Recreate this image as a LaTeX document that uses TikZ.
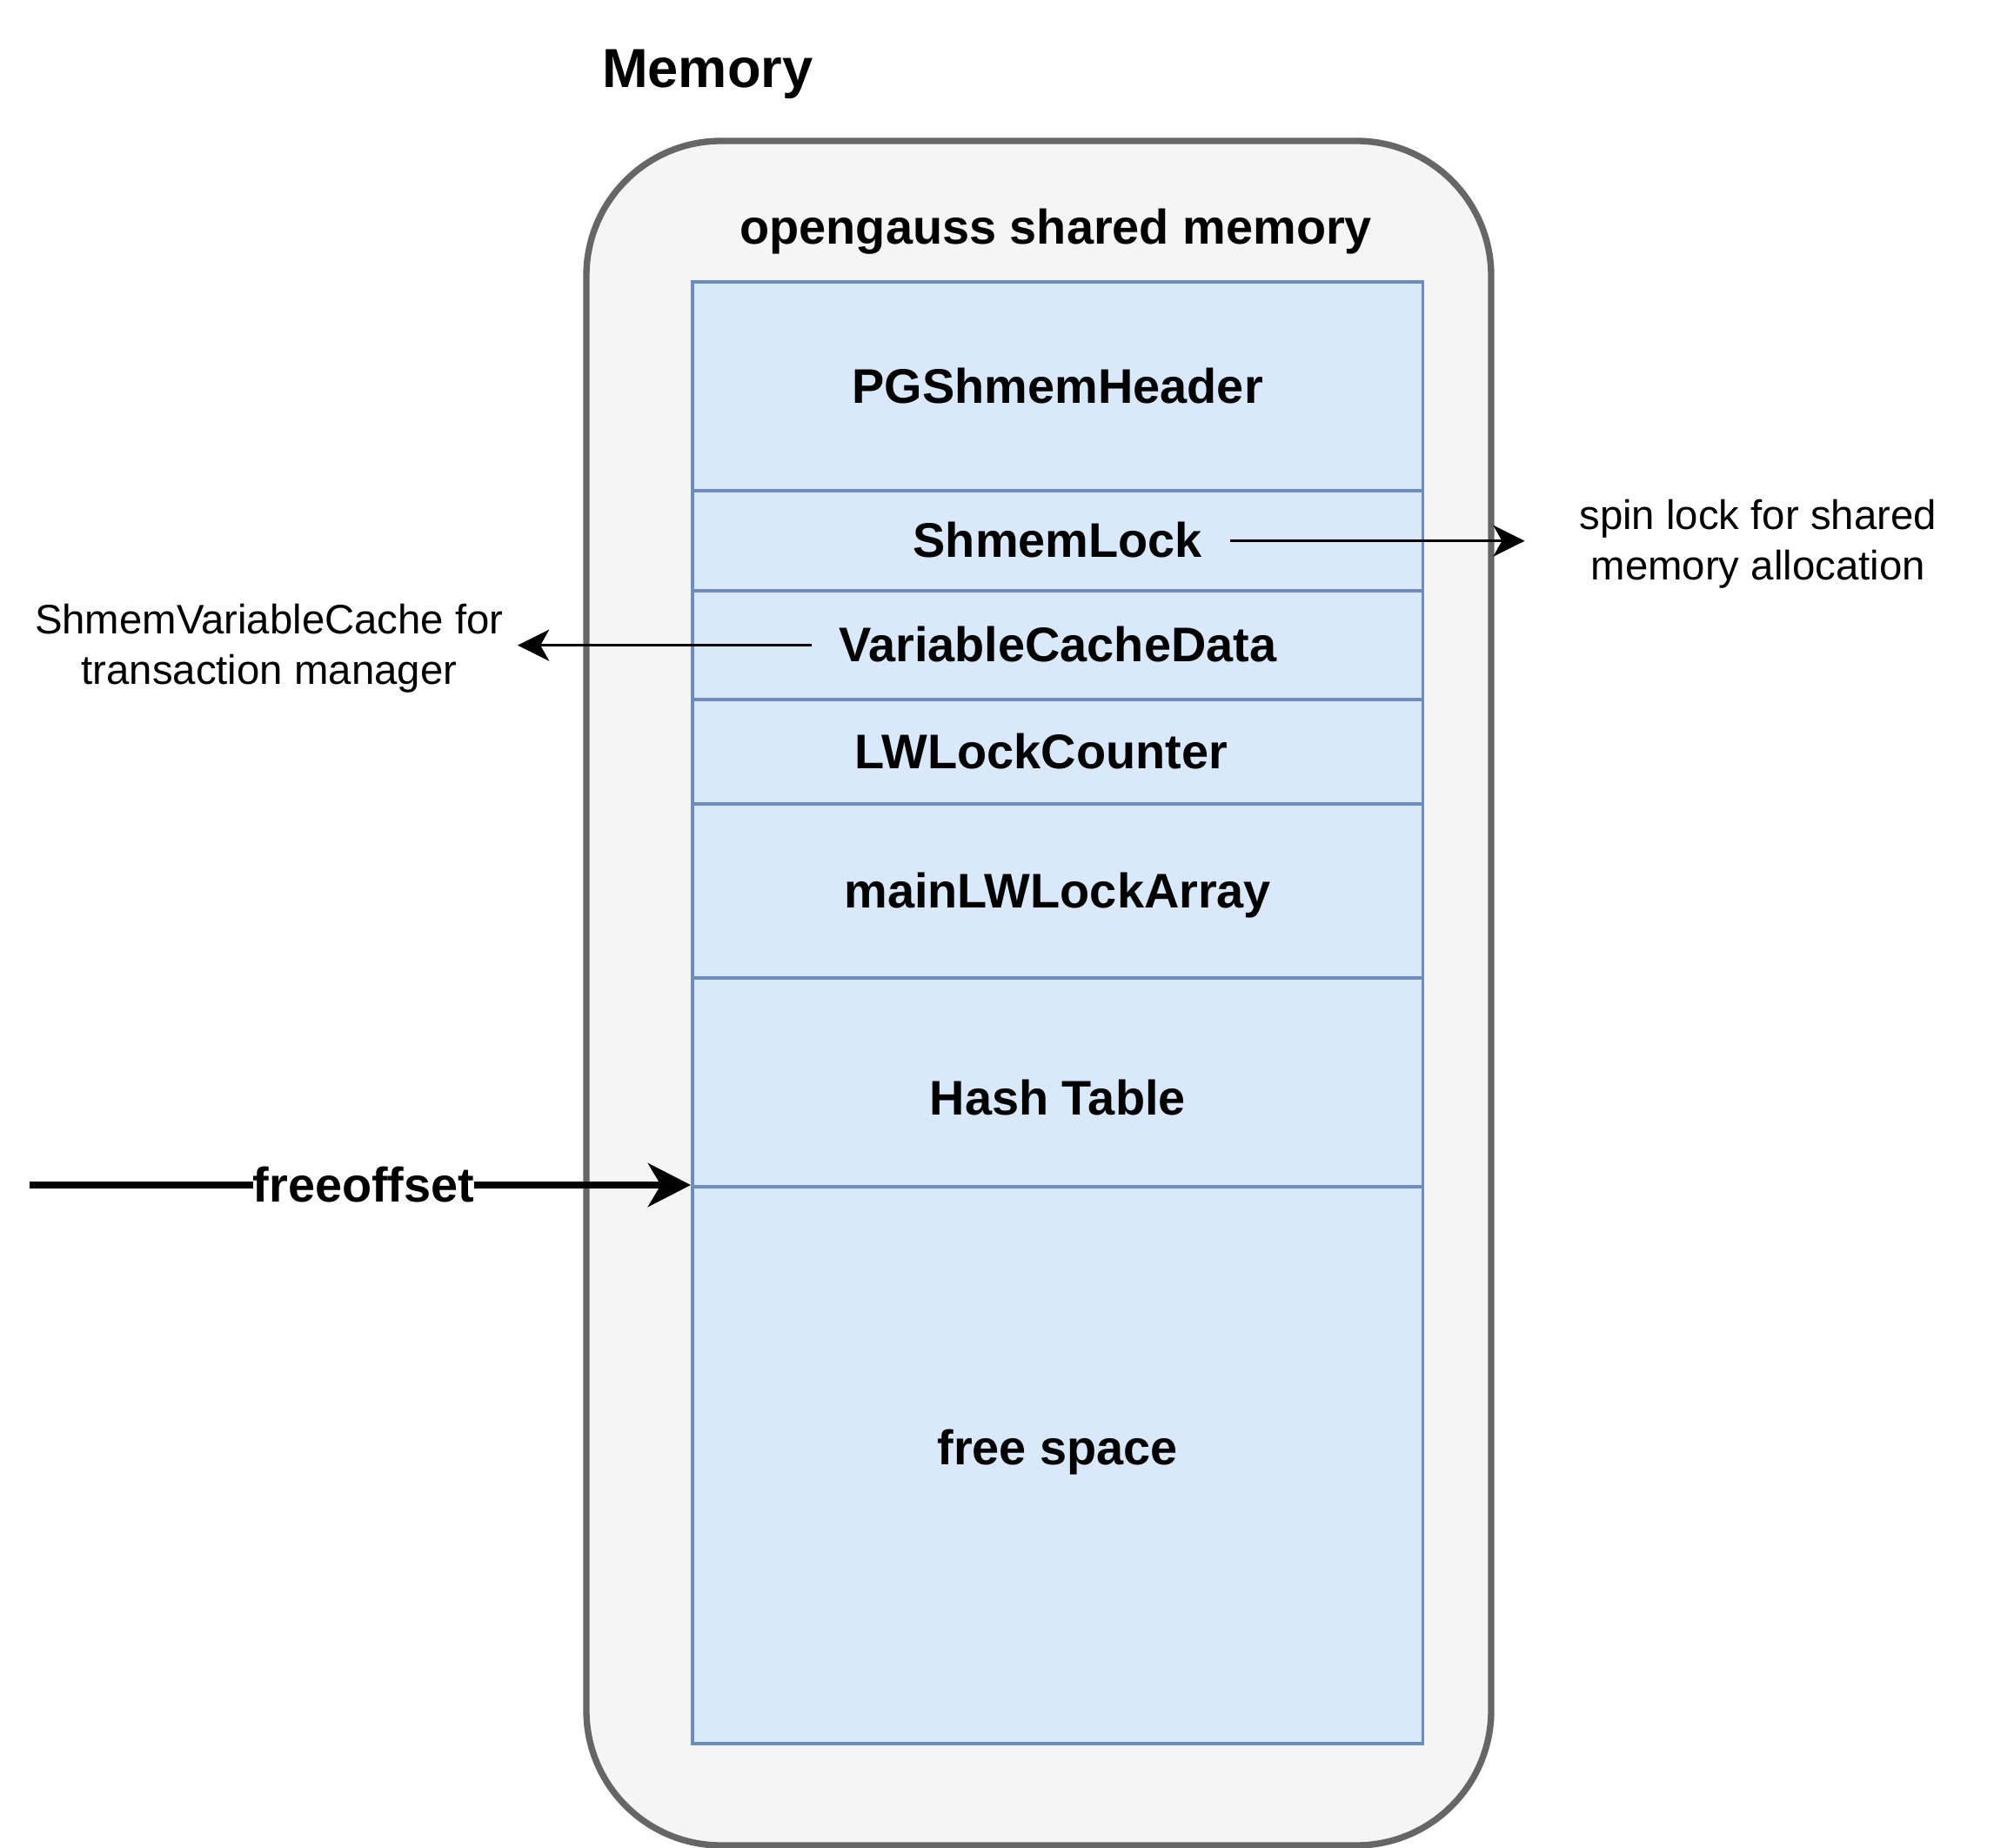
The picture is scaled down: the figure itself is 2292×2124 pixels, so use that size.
\documentclass[tikz,border=0pt]{standalone}
\usepackage{fontspec}
\setmainfont{Liberation Sans}
\usetikzlibrary{arrows.meta}
\definecolor{framefill}{HTML}{F5F5F5}
\definecolor{frameline}{HTML}{666666}
\definecolor{blockfill}{HTML}{DAE8FC}
\definecolor{blockline}{HTML}{6C8EBF}
\newcommand{\blockfont}{\fontsize{19}{22}\selectfont\bfseries}
\newcommand{\notefont}{\fontsize{16.1}{19.86}\selectfont}
\newcommand{\memblock}[4]{\node[block, minimum height=#3*0.34pt] (#1) at (794,#2) {#4};}
\tikzset{
	memframe/.style={draw=frameline, fill=framefill, line width=2.5pt, rounded corners=52.7pt,
		inner sep=0pt, minimum width=1040*0.34pt, minimum height=1959*0.34pt},
	block/.style={draw=blockline, fill=blockfill, line width=1.35pt, anchor=north west,
		inner sep=0pt, minimum width=839.5*0.34pt, font=\blockfont,
		text height=17.2pt, text depth=4.03pt},
	heading/.style={inner sep=0pt, font=\blockfont, text height=17.2pt, text depth=4.03pt},
	note/.style={inner sep=0pt, align=center, font=\notefont},
	connector/.style={-{Stealth[length=12.3pt, width=12.2pt, inset=3.4pt]}, line width=1.1pt},
	pointer/.style={-{Stealth[length=16.7pt, width=17pt, inset=5pt]}, line width=2.5pt},
	offsetlabel/.style={fill=white, inner sep=0pt, font=\blockfont,
		text height=17.2pt, text depth=4.03pt}
}
\begin{document}
\begin{tikzpicture}[x=0.34pt, y=-0.34pt]
	\useasboundingbox (0,0) rectangle (2292,2124);

	\node[inner sep=0pt, font=\fontsize{21.5}{25}\selectfont\bfseries,
		text height=19.45pt, text depth=4.56pt] (memtitle) at (813.3,78.3) {Memory};

	\node[memframe] (shmem) at (1194,1141.5) {};
	\node[heading] (shmemtitle) at (1213.75,260.7) {opengauss shared memory};

	% blocks of the shared memory, top to bottom
	\memblock{header}{322}{240}{PGShmemHeader}
	\memblock{lock}{562}{115}{ShmemLock}
	\memblock{cache}{677}{125}{VariableCacheData}
	\memblock{counter}{802}{120}{LWLockCounter\hspace*{12.9pt}}
	\memblock{lockarray}{922}{200}{mainLWLockArray}
	\memblock{hash}{1122}{240}{\raisebox{-6.3pt}{Hash Table}}
	\memblock{free}{1362}{640}{\raisebox{6.8pt}{free space}}

	\node[note, minimum width=535*0.34pt] (locknote) at (2020.7,625.5)
		{spin lock for shared\\memory allocation};
	\node[note, minimum width=570*0.34pt] (cachenote) at (309.4,745.5)
		{ShmemVariableCache for\\transaction manager};

	\coordinate (lockout) at (1414.4,621.7);
	\coordinate (cacheout) at (933,741.7);
	\coordinate (freestart) at (34.4,1362);

	\draw[connector] (lockout) -- (lockout -| locknote.west);
	\draw[connector] (cacheout) -- (cacheout -| cachenote.east);
	\draw[pointer] (freestart) -- node[offsetlabel, pos=0.505] (freeoffset) {freeoffset} (free.north west);
\end{tikzpicture}
\end{document}
